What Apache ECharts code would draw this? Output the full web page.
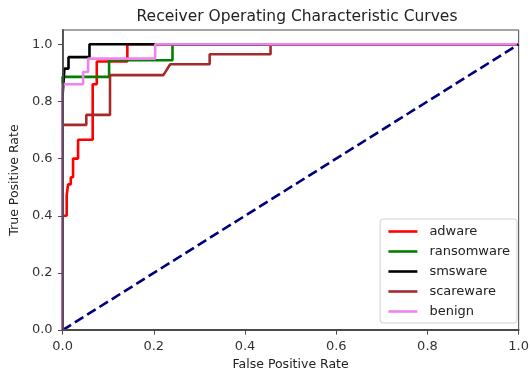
<!DOCTYPE html>
<html>
<head>
<meta charset="utf-8">
<script src="https://cdn.jsdelivr.net/npm/echarts@6/dist/echarts.min.js"></script>
<style>
  html, body { margin: 0; padding: 0; background: #fff; }
  #chart { width: 532px; height: 376px; }
</style>
</head>
<body>
<div id="chart"></div>
<script>
// ROC curve points (false positive rate / true positive rate) per class
const classNames = ['adware', 'ransomware', 'smsware', 'scareware', 'benign'];
const classColors = ['#ff0000', '#008000', '#000000', '#a52a2a', '#ee82ee'];

const adwareFpr = [0, 0, 0.009, 0.009, 0.012, 0.012, 0.018, 0.018, 0.023, 0.023, 0.034, 0.034, 0.066, 0.066, 0.075, 0.075, 0.142, 0.142, 1];
const adwareTpr = [0, 0.40, 0.40, 0.47, 0.47, 0.51, 0.51, 0.535, 0.535, 0.60, 0.60, 0.666, 0.666, 0.86, 0.86, 0.94, 0.94, 1, 1];

const ransomwareFpr = [0, 0, 0.102, 0.102, 0.241, 0.241, 1];
const ransomwareTpr = [0, 0.886, 0.886, 0.944, 0.944, 1, 1];

const smswareFpr = [0, 0, 0.004, 0.004, 0.013, 0.013, 0.059, 0.059, 1];
const smswareTpr = [0, 0.82, 0.82, 0.915, 0.915, 0.955, 0.955, 1, 1];

const scarewareFpr = [0, 0, 0.052, 0.052, 0.104, 0.104, 0.221, 0.236, 0.3225, 0.3225, 0.456, 0.456, 1];
const scarewareTpr = [0, 0.718, 0.718, 0.753, 0.753, 0.892, 0.892, 0.93, 0.93, 0.965, 0.965, 1, 1];

const benignFpr = [0, 0, 0.045, 0.045, 0.056, 0.056, 0.203, 0.203, 1];
const benignTpr = [0, 0.86, 0.86, 0.903, 0.903, 0.95, 0.95, 1, 1];

// chance line
const chanceFpr = [0, 1];
const chanceTpr = [0, 1];

const tickValues = [0, 0.2, 0.4, 0.6, 0.8, 1.0];

const curves = [
  [adwareFpr, adwareTpr],
  [ransomwareFpr, ransomwareTpr],
  [smswareFpr, smswareTpr],
  [scarewareFpr, scarewareTpr],
  [benignFpr, benignTpr]
];

const toPairs = (xs, ys) => xs.map((x, i) => [x, ys[i]]);

const FONT = 'DejaVu Sans';
const axisColor = '#4a4a4a';

const series = curves.map((c, i) => ({
  name: classNames[i],
  type: 'line',
  data: toPairs(c[0], c[1]),
  symbol: 'none',
  showSymbol: false,
  color: classColors[i],
  lineStyle: { color: classColors[i], width: 2.6 },
  z: 2 + i,
  silent: true
}));

series.push({
  name: 'chance',
  type: 'line',
  data: toPairs(chanceFpr, chanceTpr),
  symbol: 'none',
  showSymbol: false,
  lineStyle: { color: '#000080', width: 2.6, type: [10, 4.5] },
  z: 10,
  silent: true
});

const chart = echarts.init(document.getElementById('chart'), null, { renderer: 'canvas' });
chart.setOption({
  animation: false,
  backgroundColor: '#fff',
  title: {
    text: 'Receiver Operating Characteristic Curves',
    left: 292,
    textAlign: 'center',
    top: 4,
    textStyle: { fontFamily: FONT, fontSize: 15.5, fontWeight: 'normal', color: '#222' }
  },
  grid: {
    left: 61, right: 9, top: 30, bottom: 45,
    show: true, borderColor: axisColor, borderWidth: 1, backgroundColor: '#fff'
  },
  legend: {
    data: classNames,
    orient: 'vertical',
    right: 15,
    bottom: 53,
    align: 'left',
    itemWidth: 29,
    itemHeight: 14,
    itemGap: 7,
    padding: [6, 7, 5, 7],
    itemStyle: { opacity: 0 },
    lineStyle: { width: 2.6 },
    backgroundColor: 'rgba(255,255,255,0.85)',
    borderColor: '#d0d0d0',
    borderWidth: 1,
    borderRadius: 3,
    textStyle: { fontFamily: FONT, fontSize: 13, color: '#222', padding: [0, 0, 0, 7] }
  },
  xAxis: {
    type: 'value',
    z: 20,
    min: 0, max: 1, interval: 0.2,
    name: 'False Positive Rate',
    nameLocation: 'middle',
    nameGap: 19,
    nameTextStyle: { fontFamily: FONT, fontSize: 12.5, color: '#222' },
    axisLine: { show: true, lineStyle: { color: axisColor, width: 1.8 } },
    axisTick: { show: true, length: 4.5, lineStyle: { color: axisColor } },
    axisLabel: {
      margin: 10,
      fontFamily: FONT, fontSize: 13, color: '#333',
      formatter: v => v.toFixed(1)
    },
    splitLine: { show: false }
  },
  yAxis: {
    type: 'value',
    z: 20,
    min: 0, max: 1.05, interval: 0.2,
    name: 'True Positive Rate',
    nameLocation: 'middle',
    nameGap: 38,
    nameTextStyle: { fontFamily: FONT, fontSize: 12.5, color: '#222' },
    axisLine: { show: true, lineStyle: { color: axisColor, width: 1.8 } },
    axisTick: { show: true, length: 4.5, lineStyle: { color: axisColor }, customValues: tickValues },
    axisLabel: {
      margin: 10,
      fontFamily: FONT, fontSize: 13, color: '#333',
      customValues: tickValues,
      formatter: v => v.toFixed(1)
    },
    splitLine: { show: false }
  },
  series: series
});
</script>
</body>
</html>
